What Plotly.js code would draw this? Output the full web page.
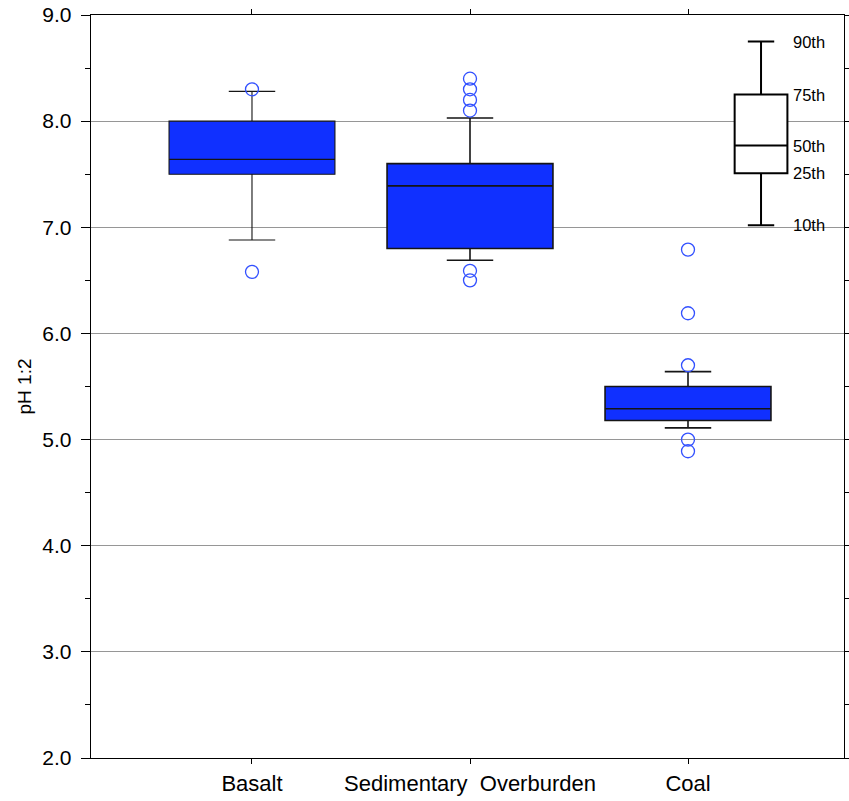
<!DOCTYPE html>
<html>
<head>
<meta charset="utf-8">
<script src="https://cdn.plot.ly/plotly-3.0.1.min.js"></script>
<style>html,body{margin:0;padding:0;background:#fff;}#chart{width:849px;height:801px;}</style>
</head>
<body>
<div id="chart"></div>
<script>
// ---- data ----
const categories = ['Basalt', 'Sedimentary\u00a0\u00a0Overburden', 'Coal'];
const catPos = [1, 2, 3];
const q1 = [7.50, 6.80, 5.18];
const median = [7.64, 7.39, 5.29];
const q3 = [8.00, 7.60, 5.50];
const lowerWhisker = [6.88, 6.69, 5.11];
const upperWhisker = [8.28, 8.03, 5.64];
const basaltOutliers = [8.30, 6.58];
const sedimentaryOutliers = [8.40, 8.30, 8.20, 8.10, 6.59, 6.50];
const coalOutliers = [6.79, 6.19, 5.70, 5.00, 4.89];
const keyLabels = ['10th', '25th', '50th', '75th', '90th'];
const keyValues = [7.02, 7.51, 7.77, 8.25, 8.75];
const keyPos = 3.335;
const yTicks = [2, 3, 4, 5, 6, 7, 8, 9];

const FONT = 'Liberation Sans, Arial, Helvetica, sans-serif';
const boxFill = 'rgb(16,48,255)';
const outlierColor = 'rgb(50,80,255)';
const boxLineWidths = [1.1, 1.6, 1.6];

const traces = [];
for (let i = 0; i < categories.length; i++) {
  traces.push({
    type: 'box',
    x: [catPos[i]],
    q1: [q1[i]], median: [median[i]], q3: [q3[i]],
    lowerfence: [lowerWhisker[i]], upperfence: [upperWhisker[i]],
    width: 0.761,
    whiskerwidth: 0.28,
    fillcolor: boxFill,
    line: {color: '#151515', width: boxLineWidths[i]},
    boxpoints: false,
    hoverinfo: 'skip',
    showlegend: false
  });
}
const outlierSets = [basaltOutliers, sedimentaryOutliers, coalOutliers];
outlierSets.forEach((vals, i) => {
  traces.push({
    type: 'scatter', mode: 'markers',
    x: vals.map(() => catPos[i]), y: vals,
    marker: {symbol: 'circle-open', size: 13, color: outlierColor, line: {width: 1.3, color: outlierColor}},
    hoverinfo: 'skip', showlegend: false
  });
});
// key box
traces.push({
  type: 'box',
  x: [keyPos],
  q1: [keyValues[1]], median: [keyValues[2]], q3: [keyValues[3]],
  lowerfence: [keyValues[0]], upperfence: [keyValues[4]],
  width: 0.242,
  whiskerwidth: 0.5,
  fillcolor: '#ffffff',
  line: {color: '#000000', width: 2},
  boxpoints: false,
  hoverinfo: 'skip',
  showlegend: false
});

const annotations = keyLabels.map((t, i) => ({
  x: keyPos, y: keyValues[i], xref: 'x', yref: 'y',
  text: t, showarrow: false, xanchor: 'left', yanchor: 'middle',
  xshift: 30, font: {family: FONT, size: 16.5, color: '#000'}
}));

const layout = {
  width: 849, height: 801,
  margin: {l: 91, r: 5, t: 15, b: 43},
  paper_bgcolor: '#fff', plot_bgcolor: '#fff',
  font: {family: FONT, color: '#000'},
  showlegend: false,
  boxmode: 'overlay',
  xaxis: {
    range: [0.2615, 3.7156],
    tickmode: 'array', tickvals: catPos, ticktext: categories,
    ticks: 'outside', ticklen: 5, tickwidth: 1, tickcolor: '#000',
    showline: true, linecolor: '#000', linewidth: 1.3, mirror: 'ticks',
    showgrid: false, zeroline: false,
    tickfont: {family: FONT, size: 22, color: '#000'}
  },
  yaxis: {
    range: [2, 9],
    tickmode: 'array', tickvals: yTicks,
    tickformat: '.1f',
    ticks: 'outside', ticklen: 9, tickwidth: 1, tickcolor: '#000',
    ticklabelstandoff: 5,
    minor: {dtick: 0.5, ticks: 'outside', ticklen: 5, tickcolor: '#000', showgrid: false},
    showline: true, linecolor: '#000', linewidth: 1.3, mirror: 'ticks',
    showgrid: true, gridcolor: 'rgb(150,150,150)', gridwidth: 1,
    zeroline: false,
    tickfont: {family: FONT, size: 21, color: '#000'},
    title: {text: 'pH 1:2', font: {family: FONT, size: 19, color: '#000'}, standoff: 5}
  },
  annotations: annotations
};

Plotly.newPlot('chart', traces, layout, {staticPlot: true, displayModeBar: false});
</script>
</body>
</html>
